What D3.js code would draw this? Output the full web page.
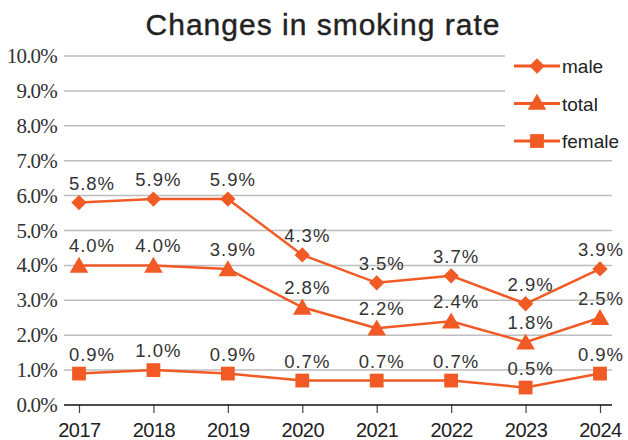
<!DOCTYPE html>
<html>
<head>
<meta charset="utf-8">
<script src="https://cdn.jsdelivr.net/npm/d3@7"></script>
<style>
  body { margin: 0; background: #fff; }
  svg { display: block; }
  .serif { font-family: "Liberation Serif", "DejaVu Serif", "Times New Roman", serif; }
</style>
</head>
<body>
<div id="chart"></div>
<script>
// data
const years = ["2017", "2018", "2019", "2020", "2021", "2022", "2023", "2024"];
const male = [5.8, 5.9, 5.9, 4.3, 3.5, 3.7, 2.9, 3.9];
const total = [4.0, 4.0, 3.9, 2.8, 2.2, 2.4, 1.8, 2.5];
const female = [0.9, 1.0, 0.9, 0.7, 0.7, 0.7, 0.5, 0.9];
const yTicks = [0, 1, 2, 3, 4, 5, 6, 7, 8, 9, 10];
const seriesNames = ["male", "total", "female"];

const color = "#f15a24";
const W = 628, H = 440;

const svg = d3.select("#chart").append("svg")
  .attr("width", W).attr("height", H);

const x = d3.scalePoint().domain(years).range([79, 600]);
const y = d3.scaleLinear().domain([0, 10]).range([405, 56]);
const left = 64, right = 612;

// title
svg.append("text")
  .attr("x", 323).attr("y", 35)
  .attr("text-anchor", "middle")
  .style("font-family", "'Liberation Sans', Arial, sans-serif")
  .style("font-size", "30px")
  .style("letter-spacing", "1px")
  .attr("fill", "#222")
  .attr("stroke", "#222").attr("stroke-width", 0.4)
  .text("Changes in smoking rate");

// gridlines
svg.append("g").selectAll("line")
  .data(yTicks.filter(d => d > 0))
  .enter().append("line")
  .attr("x1", left).attr("x2", right)
  .attr("y1", d => y(d)).attr("y2", d => y(d))
  .attr("stroke", "#bdbdbd").attr("stroke-width", 1.5);

// y labels (serif)
svg.append("g").selectAll("text")
  .data(yTicks)
  .enter().append("text")
  .attr("class", "serif")
  .attr("x", 57).attr("y", d => y(d) + 7)
  .attr("text-anchor", "end")
  .style("font-size", "21px")
  .style("letter-spacing", "-0.8px")
  .attr("fill", "#333")
  .text(d => d.toFixed(1) + "%");

// x axis
const xAxis = d3.axisBottom(x).tickSize(8).tickPadding(6).tickSizeOuter(0);
const gx = svg.append("g").attr("transform", `translate(0,${y(0)})`).call(xAxis);
gx.select(".domain").remove();
gx.append("line").attr("x1", left).attr("x2", right)
  .attr("stroke", "#111").attr("stroke-width", 1.5);
gx.selectAll(".tick line").attr("stroke", "#444").attr("stroke-width", 1.2);
gx.selectAll(".tick text")
  .attr("fill", "#222")
  .attr("dy", "0.9em")
  .style("font-family", "'Liberation Sans', Arial, sans-serif")
  .style("font-size", "20px")
  .style("letter-spacing", "-0.5px");

// legend background hides the gridline ends
svg.append("rect").attr("x", 505).attr("y", 44).attr("width", 123).attr("height", 110).attr("fill", "#fff");

const symbols = {
  male: d3.symbol().type(d3.symbolDiamond2).size(150),
  total: d3.symbol().type(d3.symbolTriangle).size(150),
  female: d3.symbol().type(d3.symbolSquare).size(190)
};

const series = [
  { name: "male", values: male },
  { name: "total", values: total },
  { name: "female", values: female }
];

const line = d3.line().x((d, i) => x(years[i])).y(d => y(d));

series.forEach(s => {
  const g = svg.append("g");
  g.append("path")
    .attr("d", line(s.values))
    .attr("fill", "none").attr("stroke", color).attr("stroke-width", 2.5);
  g.selectAll("path.mk")
    .data(s.values)
    .enter().append("path")
    .attr("class", "mk")
    .attr("transform", (d, i) => `translate(${x(years[i])},${y(d) + (s.name === "total" ? 2 : 0)})`)
    .attr("d", symbols[s.name]())
    .attr("fill", color);
  g.selectAll("text")
    .data(s.values)
    .enter().append("text")
    .attr("x", (d, i) => Math.min(Math.max(x(years[i]) + 5, 92), 601))
    .attr("y", d => y(d) - 13)
    .attr("text-anchor", "middle")
    .style("font-family", "'Liberation Sans', Arial, sans-serif")
    .style("font-size", "18.5px")
    .style("letter-spacing", "1px")
    .attr("fill", "#333")
    .text(d => d.toFixed(1) + "%");
});

// legend
const leg = svg.append("g").selectAll("g")
  .data(seriesNames)
  .enter().append("g")
  .attr("transform", (d, i) => `translate(514,${66 + i * 37.5})`);
leg.append("line").attr("x1", 0).attr("x2", 46)
  .attr("stroke", color).attr("stroke-width", 3);
leg.append("path")
  .attr("transform", d => `translate(23,${d === "total" ? 1 : 0})`)
  .attr("d", d => symbols[d]())
  .attr("fill", color);
leg.append("text")
  .attr("x", 48).attr("y", 7)
  .style("font-family", "'Liberation Sans', Arial, sans-serif")
  .style("font-size", "19px")
  .attr("fill", "#222")
  .text(d => d);
</script>
</body>
</html>
